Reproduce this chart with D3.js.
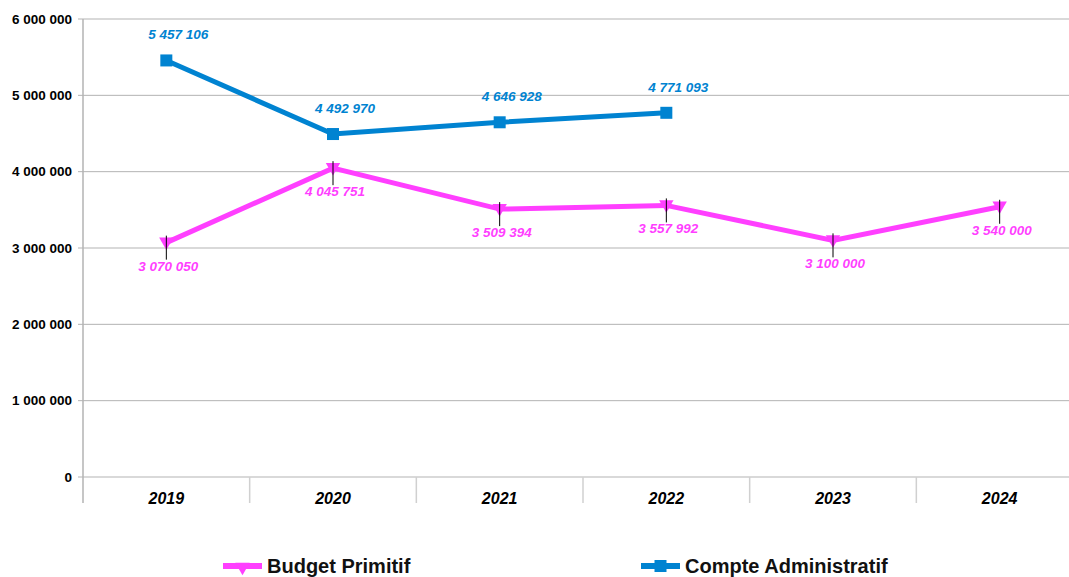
<!DOCTYPE html>
<html>
<head>
<meta charset="utf-8">
<script src="https://cdn.jsdelivr.net/npm/d3@7"></script>
<style>
  body { margin: 0; background: #fff; overflow: hidden; }
  svg { font-family: "Liberation Sans", Arial, sans-serif; }
  .grid line { stroke: #b3b3b3; stroke-width: 1; }
</style>
</head>
<body>
<div id="chart"></div>
<script>
// Data
var years = ["2019", "2020", "2021", "2022", "2023", "2024"];
var budgetPrimitif = [3070050, 4045751, 3509394, 3557992, 3100000, 3540000];
var compteAdmin = [5457106, 4492970, 4646928, 4771093, null, null];
var yTicks = [0, 1000000, 2000000, 3000000, 4000000, 5000000, 6000000];
var seriesNames = ["Budget Primitif", "Compte Administratif"];

var W = 1069, H = 577;
// the plot area runs past the right edge of the picture
var margin = { top: 19, right: -14, bottom: 100, left: 83 },
    width = W - margin.left - margin.right,
    height = H - margin.top - margin.bottom;

var pink = "#ff3fff", blue = "#0083d1";

// French style thousands separator
var fmt = function (v) { return d3.format(",")(v).replace(/,/g, " "); };

var svg = d3.select("#chart").append("svg")
    .attr("width", W).attr("height", H);

var g = svg.append("g")
    .attr("transform", "translate(" + margin.left + "," + margin.top + ")");

var x = d3.scaleBand().domain(years).range([0, width]);
var y = d3.scaleLinear().domain([0, 6000000]).range([height, 0]);

// horizontal grid + y tick marks
g.append("g").attr("class", "grid")
    .selectAll("line").data(yTicks).enter().append("line")
    .attr("x1", -5).attr("x2", width)
    .attr("y1", function (d) { return y(d); })
    .attr("y2", function (d) { return y(d); });

// y labels
g.selectAll(".ylab").data(yTicks).enter().append("text")
    .attr("class", "ylab")
    .attr("x", -11)
    .attr("y", function (d) { return y(d); })
    .attr("dy", "0.35em")
    .attr("text-anchor", "end")
    .style("font-size", "13.5px")
    .style("font-weight", "bold")
    .text(function (d) { return fmt(d); });

// vertical axis line and category separators
var seps = years.map(function (d) { return x(d) + x.bandwidth(); }).slice(0, -1);
g.append("line")
    .attr("x1", 0).attr("x2", 0).attr("y1", 0).attr("y2", height + 26)
    .attr("stroke", "#b3b3b3").attr("stroke-width", 1.5);
g.selectAll(".sep").data(seps).enter().append("line")
    .attr("x1", function (d) { return d; }).attr("x2", function (d) { return d; })
    .attr("y1", height).attr("y2", height + 26)
    .attr("stroke", "#d0d0d0").attr("stroke-width", 1.5);

// x labels
g.selectAll(".xlab").data(years).enter().append("text")
    .attr("x", function (d) { return x(d) + x.bandwidth() / 2; })
    .attr("y", height + 27)
    .attr("text-anchor", "middle")
    .style("font-size", "16px")
    .style("font-weight", "bold")
    .style("font-style", "italic")
    .text(function (d) { return d; });

var cx = function (i) { return x(years[i]) + x.bandwidth() / 2; };

var line = d3.line()
    .defined(function (d) { return d != null; })
    .x(function (d, i) { return cx(i); })
    .y(function (d) { return y(d); });

// Budget Primitif line
g.append("path")
    .attr("d", line(budgetPrimitif))
    .attr("fill", "none").attr("stroke", pink).attr("stroke-width", 5);

// Compte Administratif line
g.append("path")
    .attr("d", line(compteAdmin))
    .attr("fill", "none").attr("stroke", blue).attr("stroke-width", 5);

var tri = d3.symbol().type(d3.symbolTriangle).size(90);

// pink markers (down triangles)
budgetPrimitif.forEach(function (v, i) {
    g.append("path")
        .attr("d", tri())
        .attr("transform", "translate(" + cx(i) + "," + (y(v) - 1) + ") rotate(180)")
        .attr("fill", pink);
    // leader line
    g.append("line")
        .attr("x1", cx(i)).attr("x2", cx(i))
        .attr("y1", y(v) - 7).attr("y2", y(v) + 17)
        .attr("stroke", "#000").attr("stroke-width", 1);
    g.append("text")
        .attr("x", cx(i) + 2)
        .attr("y", y(v) + 28)
        .attr("text-anchor", "middle")
        .style("font-size", "13.5px").style("font-weight", "bold").style("font-style", "italic")
        .attr("fill", pink)
        .text(fmt(v));
});

// blue markers (squares)
compteAdmin.forEach(function (v, i) {
    if (v == null) return;
    g.append("rect")
        .attr("x", cx(i) - 6).attr("y", y(v) - 6)
        .attr("width", 12).attr("height", 12)
        .attr("fill", blue);
    g.append("text")
        .attr("x", cx(i) + 12)
        .attr("y", y(v) - 21)
        .attr("text-anchor", "middle")
        .style("font-size", "13.5px").style("font-weight", "bold").style("font-style", "italic")
        .attr("fill", blue)
        .text(fmt(v));
});

// Legend
var legend = svg.append("g");
var lx = [223, 641];
var lcol = [pink, blue];
seriesNames.forEach(function (name, i) {
    var lg = legend.append("g").attr("transform", "translate(" + lx[i] + ",566)");
    lg.append("line").attr("x1", 0).attr("x2", 39).attr("y1", 0).attr("y2", 0)
        .attr("stroke", lcol[i]).attr("stroke-width", 6);
    if (i === 0) {
        lg.append("path").attr("d", tri())
            .attr("transform", "translate(19.5,1) rotate(180)")
            .attr("fill", pink);
    } else {
        lg.append("rect").attr("x", 13.5).attr("y", -6).attr("width", 12).attr("height", 12)
            .attr("fill", blue);
    }
    lg.append("text").attr("x", 44).attr("y", 7)
        .style("font-size", "20px").style("font-weight", "bold")
        .attr("fill", "#111")
        .text(name);
});
</script>
</body>
</html>
